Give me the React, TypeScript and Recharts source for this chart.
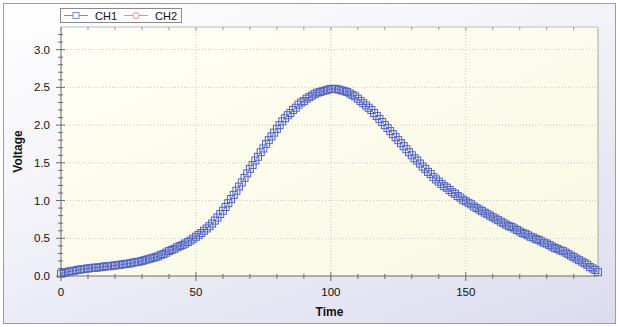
import React from 'react';
import {
  LineChart,
  Line,
  XAxis,
  YAxis,
  CartesianGrid,
  ReferenceLine,
  Legend,
} from 'recharts';

// sample index 0..199
const TIME = Array.from({ length: 200 }, (_, i) => i);

// CH1 voltage
const CH1 = [
  0.03, 0.04, 0.05, 0.06, 0.065, 0.07, 0.08, 0.085, 0.09, 0.095,
  0.10, 0.105, 0.11, 0.11, 0.115, 0.12, 0.125, 0.13, 0.13, 0.135,
  0.14, 0.145, 0.15, 0.155, 0.16, 0.165, 0.17, 0.18, 0.185, 0.19,
  0.20, 0.21, 0.22, 0.23, 0.24, 0.25, 0.26, 0.28, 0.29, 0.31,
  0.33, 0.345, 0.36, 0.38, 0.395, 0.41, 0.43, 0.45, 0.47, 0.495,
  0.52, 0.545, 0.57, 0.60, 0.63, 0.66, 0.695, 0.735, 0.775, 0.82,
  0.865, 0.915, 0.965, 1.02, 1.075, 1.13, 1.185, 1.24, 1.30, 1.36,
  1.42, 1.47, 1.53, 1.58, 1.64, 1.69, 1.75, 1.80, 1.85, 1.90,
  1.95, 2.00, 2.05, 2.09, 2.13, 2.16, 2.20, 2.23, 2.27, 2.30,
  2.32, 2.35, 2.37, 2.39, 2.41, 2.43, 2.44, 2.45, 2.46, 2.47,
  2.48, 2.48, 2.48, 2.47, 2.46, 2.45, 2.44, 2.42, 2.40, 2.38,
  2.35, 2.32, 2.29, 2.26, 2.23, 2.20, 2.16, 2.12, 2.08, 2.04,
  2.00, 1.96, 1.92, 1.88, 1.84, 1.80, 1.76, 1.72, 1.68, 1.64,
  1.60, 1.56, 1.53, 1.49, 1.45, 1.42, 1.38, 1.35, 1.31, 1.28,
  1.25, 1.22, 1.19, 1.17, 1.14, 1.11, 1.09, 1.06, 1.04, 1.01,
  0.99, 0.97, 0.95, 0.92, 0.90, 0.88, 0.86, 0.84, 0.82, 0.80,
  0.78, 0.76, 0.74, 0.72, 0.70, 0.68, 0.66, 0.65, 0.63, 0.61,
  0.59, 0.57, 0.56, 0.54, 0.52, 0.51, 0.49, 0.48, 0.46, 0.44,
  0.43, 0.41, 0.39, 0.37, 0.36, 0.34, 0.33, 0.31, 0.29, 0.27,
  0.25, 0.23, 0.21, 0.19, 0.17, 0.15, 0.12, 0.10, 0.08, 0.05,
];

const SERIES = [
  { key: 'ch1', name: 'CH1', color: '#7f8bd4', marker: 'square' },
  { key: 'ch2', name: 'CH2', color: '#f08a8a', marker: 'circle' },
];

const X_TICKS = [0, 10, 20, 30, 40, 50, 60, 70, 80, 90, 100, 110, 120, 130, 140, 150, 160, 170, 180, 190];
const X_MAJOR = [50, 100, 150];
const Y_TICKS = [
  0, 0.1, 0.2, 0.3, 0.4, 0.5, 0.6, 0.7, 0.8, 0.9, 1.0, 1.1, 1.2, 1.3, 1.4, 1.5, 1.6,
  1.7, 1.8, 1.9, 2.0, 2.1, 2.2, 2.3, 2.4, 2.5, 2.6, 2.7, 2.8, 2.9, 3.0, 3.1, 3.2,
];
const Y_MAJOR = [0.5, 1.0, 1.5, 2.0, 2.5, 3.0];

const data = TIME.map((t, i) => ({ t, ch1: CH1[i] }));

const FONT = '"Liberation Sans", Arial, sans-serif';
const AXIS = '#6b6b6b';
const GRID = '#c9c9c9';

const isMajorX = (v: number) => v % 50 === 0;
const isMajorY = (v: number) => Math.abs(v * 2 - Math.round(v * 2)) < 1e-6;

function BottomTick({ x, y, payload }: any) {
  const major = isMajorX(payload.value);
  return (
    <g>
      <line x1={x} x2={x} y1={y - (major ? 4 : 2)} y2={y + (major ? 5 : 3)} stroke={AXIS} />
      {major && (
        <text x={x} y={y + 20} textAnchor="middle" fontSize={11.5} fill="#111" fontFamily={FONT}>
          {payload.value}
        </text>
      )}
    </g>
  );
}

function TopTick({ x, y, payload }: any) {
  const major = isMajorX(payload.value);
  return <line x1={x} x2={x} y1={y} y2={y + (major ? 4 : 3)} stroke="#999" />;
}

function LeftTick({ x, y, payload }: any) {
  const major = isMajorY(payload.value);
  return (
    <g>
      <line x1={x - (major ? 5 : 3)} x2={x + (major ? 4 : 2)} y1={y} y2={y} stroke={AXIS} />
      {major && (
        <text x={x - 11} y={y + 4} textAnchor="end" fontSize={11.5} fill="#111" fontFamily={FONT}>
          {payload.value.toFixed(1)}
        </text>
      )}
    </g>
  );
}

function RightTick({ x, y, payload }: any) {
  const major = isMajorY(payload.value);
  return <line x1={x - (major ? 5 : 3)} x2={x} y1={y} y2={y} stroke="#999" />;
}

function SquareDot(props: any) {
  const { cx, cy, index } = props;
  if (cx == null || cy == null) return <g key={index} />;
  return (
    <rect key={index} x={cx - 3.5} y={cy - 3.5} width={7} height={7} fill="none" stroke="#5062c2" strokeWidth={1} />
  );
}

function LegendBox() {
  return (
    <svg width={122} height={15} style={{ display: 'block' }}>
      <rect x={0.5} y={0.5} width={121} height={14} fill="#fdfdfd" stroke="#8a8a8a" />
      {SERIES.map((s, i) => {
        const ox = 4 + i * 60;
        return (
          <g key={s.key}>
            <line x1={ox} x2={ox + 24} y1={7.5} y2={7.5} stroke={s.color} />
            {s.marker === 'square' ? (
              <rect x={ox + 9} y={4.5} width={6} height={6} fill="#fff" stroke={s.color} />
            ) : (
              <circle cx={ox + 12} cy={7.5} r={3} fill="#fff" stroke={s.color} />
            )}
            <text x={ox + 31} y={11.5} fontSize={11} fill="#111" fontFamily={FONT}>
              {s.name}
            </text>
          </g>
        );
      })}
    </svg>
  );
}

export default function App() {
  return (
    <div style={{ position: 'absolute', left: 0, top: 0, width: 620, height: 327, background: '#fff' }}>
      <div
        style={{
          position: 'absolute',
          left: 3,
          top: 3,
          width: 611,
          height: 319,
          border: '1.5px solid #9c9c9c',
          background: 'linear-gradient(160deg, #ffffff 0%, #f1f1f8 45%, #dcdcef 100%)',
        }}
      />
      <div style={{ position: 'absolute', left: 0, top: 0 }}>
        <LineChart
          width={620}
          height={327}
          data={data}
          margin={{ top: 0, right: 0, bottom: 0, left: 0 }}
          style={{ fontFamily: FONT }}
        >
          <defs>
            <linearGradient id="plotBg" x1="0" y1="0" x2="1" y2="1">
              <stop offset="0%" stopColor="#fffff6" />
              <stop offset="100%" stopColor="#f9f8e2" />
            </linearGradient>
          </defs>
          <CartesianGrid horizontal={false} vertical={false} fill="url(#plotBg)" />
          <XAxis
            xAxisId="bottom"
            dataKey="t"
            type="number"
            domain={[0, 199]}
            ticks={X_TICKS}
            interval={0}
            height={51}
            tickSize={0}
            tickMargin={0}
            tickLine={false}
            axisLine={{ stroke: AXIS }}
            tick={<BottomTick />}
            label={{
              value: 'Time',
              position: 'insideBottom',
              offset: 11,
              fontSize: 12,
              fontWeight: 'bold',
              fill: '#111',
            }}
          />
          <XAxis
            xAxisId="top"
            orientation="top"
            dataKey="t"
            type="number"
            domain={[0, 199]}
            ticks={X_TICKS}
            interval={0}
            height={27}
            tickSize={0}
            tickMargin={0}
            tickLine={false}
            axisLine={{ stroke: '#bdbdbd' }}
            tick={<TopTick />}
          />
          <YAxis
            yAxisId="left"
            type="number"
            domain={[0, 3.3]}
            ticks={Y_TICKS}
            interval={0}
            width={61}
            tickSize={0}
            tickMargin={0}
            tickLine={false}
            axisLine={{ stroke: AXIS }}
            tick={<LeftTick />}
            label={({ viewBox }: any) => (
              <text
                x={18}
                y={viewBox.y + viewBox.height / 2}
                transform={`rotate(-90 18 ${viewBox.y + viewBox.height / 2})`}
                textAnchor="middle"
                dominantBaseline="central"
                fontSize={12}
                fontWeight="bold"
                fill="#111"
                fontFamily={FONT}
              >
                Voltage
              </text>
            )}
          />
          <YAxis
            yAxisId="right"
            orientation="right"
            type="number"
            domain={[0, 3.3]}
            ticks={Y_TICKS}
            interval={0}
            width={22}
            tickSize={0}
            tickMargin={0}
            tickLine={false}
            axisLine={{ stroke: '#a8a8a8' }}
            tick={<RightTick />}
          />
          {X_MAJOR.map((v) => (
            <ReferenceLine
              key={'x' + v}
              x={v}
              xAxisId="bottom"
              yAxisId="left"
              stroke={GRID}
              strokeDasharray="1 2"
            />
          ))}
          {Y_MAJOR.map((v) => (
            <ReferenceLine
              key={'y' + v}
              y={v}
              xAxisId="bottom"
              yAxisId="left"
              stroke={GRID}
              strokeDasharray="1 2"
            />
          ))}
          <Legend
            layout="horizontal"
            verticalAlign="middle"
            align="center"
            wrapperStyle={{ position: 'absolute', top: 8, left: 60, width: 122, height: 15 }}
            content={() => <LegendBox />}
          />
          <Line
            xAxisId="bottom"
            yAxisId="left"
            dataKey="ch1"
            name="CH1"
            stroke="#6f7ccc"
            strokeWidth={1}
            dot={SquareDot}
            activeDot={false}
            isAnimationActive={false}
          />
          <Line
            xAxisId="bottom"
            yAxisId="left"
            dataKey="ch2"
            name="CH2"
            stroke="#f08a8a"
            dot={false}
            activeDot={false}
            isAnimationActive={false}
          />
        </LineChart>
      </div>
    </div>
  );
}
